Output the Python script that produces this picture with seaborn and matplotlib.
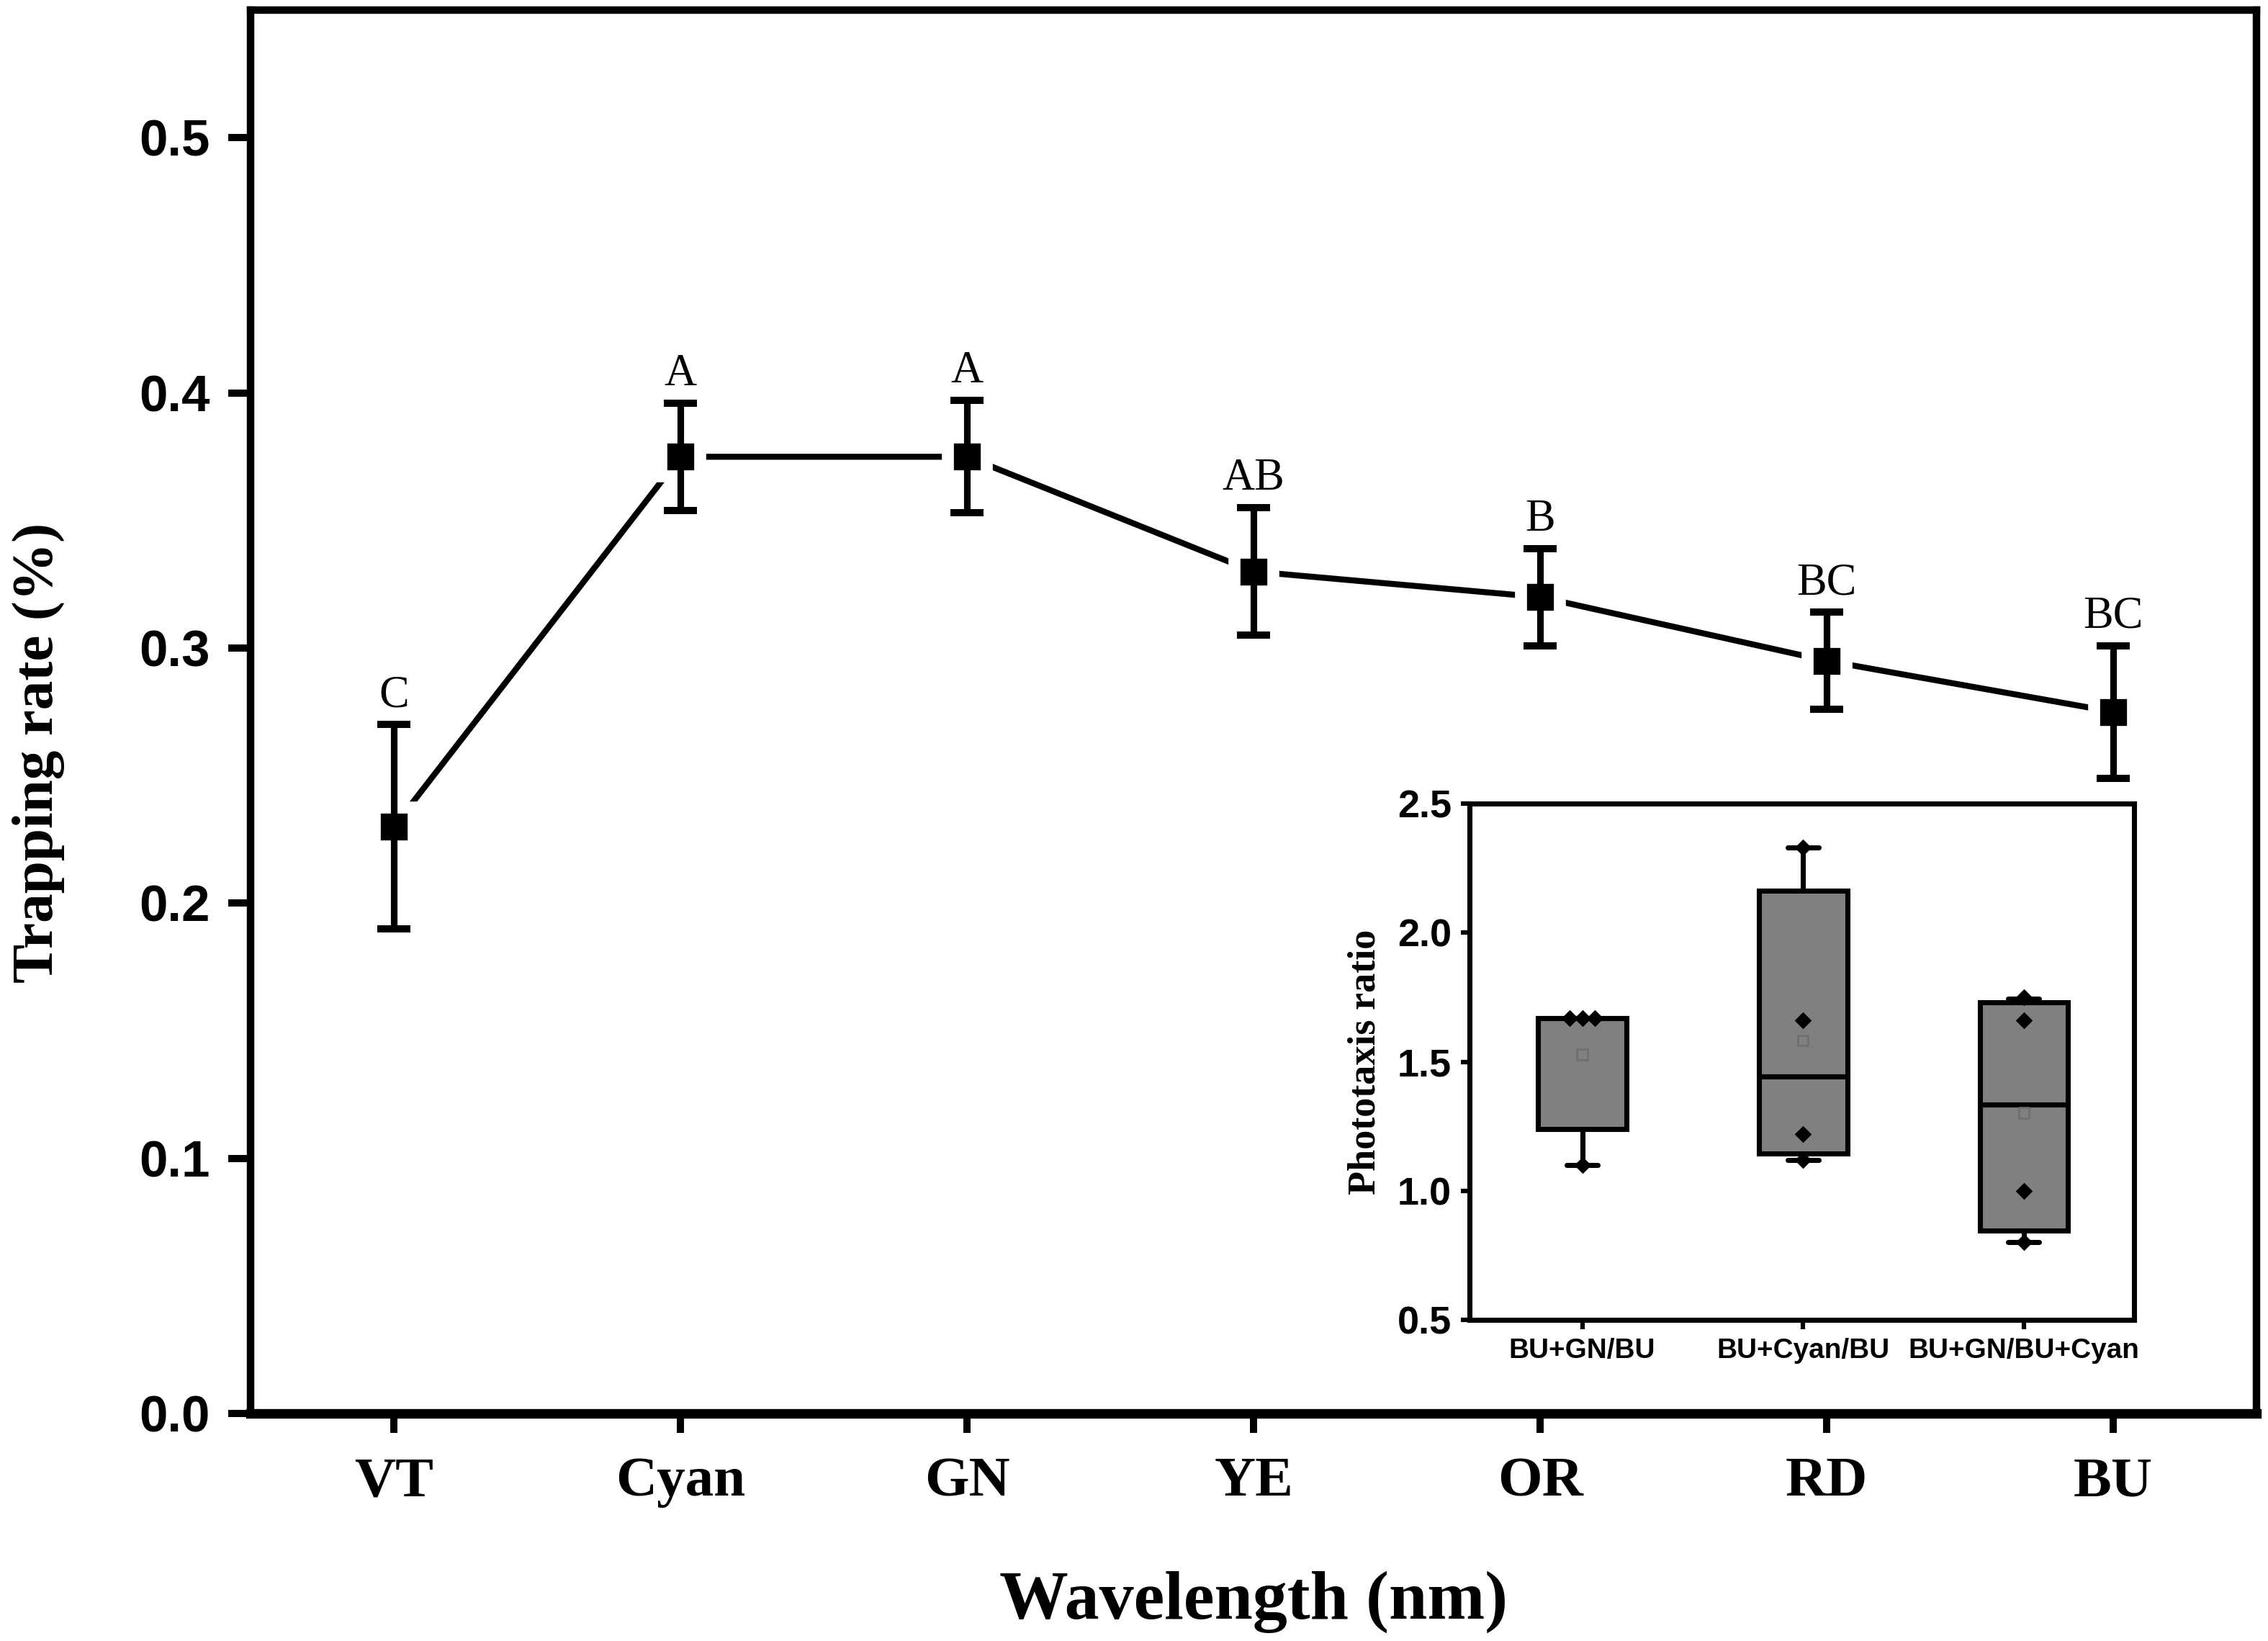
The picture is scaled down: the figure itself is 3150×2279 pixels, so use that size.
import numpy as np
import pandas as pd
import matplotlib
matplotlib.use("Agg")
import matplotlib.pyplot as plt
import seaborn as sns

# main panel: trapping rate per wavelength
wavelengths = ["VT", "Cyan", "GN", "YE", "OR", "RD", "BU"]
trap_rate = [0.230, 0.375, 0.375, 0.330, 0.320, 0.295, 0.275]
trap_err = [0.040, 0.021, 0.022, 0.025, 0.019, 0.019, 0.026]
letters = ["C", "A", "A", "AB", "B", "BC", "BC"]

# inset: phototaxis ratio box summaries + raw points
groups = ["BU+GN/BU", "BU+Cyan/BU", "BU+GN/BU+Cyan"]
q1 = [1.24, 1.145, 0.847]
median = [1.67, 1.443, 1.333]
q3 = [1.67, 2.163, 1.730]
whis_lo = [1.10, 1.12, 0.80]
whis_hi = [1.67, 2.33, 1.745]
pts_gn_bu = [1.67, 1.67, 1.67, 1.10]
pts_cyan_bu = [2.33, 1.66, 1.22, 1.12]
pts_gn_cyan = [1.75, 1.66, 1.00, 0.80]

sns.set_style("ticks", {"axes.edgecolor": "black", "xtick.color": "black",
                        "ytick.color": "black", "text.color": "black",
                        "axes.labelcolor": "black"})
plt.rcParams["font.family"] = ["Liberation Sans", "DejaVu Sans"]
SERIF = ["Liberation Serif", "DejaVu Serif"]
SANS = ["Liberation Sans", "DejaVu Sans"]

df = pd.DataFrame({"pos": np.arange(len(wavelengths)), "rate": trap_rate, "err": trap_err})

fig = plt.figure(figsize=(10.5, 2279 / 300))
ax = fig.add_axes([0.1105, 0.1387, 0.8845, 0.855])

sns.lineplot(data=df, x="pos", y="rate", ax=ax, color="black", lw=2.0,
             marker="s", markersize=13, markerfacecolor="black",
             markeredgecolor="white", markeredgewidth=4, zorder=2)
ax.errorbar(df["pos"], df["rate"], yerr=df["err"], fmt="none", ecolor="black",
            elinewidth=2.2, capsize=5.5, capthick=2.4, zorder=3)

for x, y, e, lab in zip(df["pos"], df["rate"], df["err"], letters):
    ax.annotate(lab, (x, y + e), xytext=(0, 6), textcoords="offset points",
                ha="center", va="baseline", fontsize=15, family=SERIF)

ax.set_xlim(-0.5, len(wavelengths) - 0.5)
ax.set_ylim(0, 0.55)
ax.set_yticks(np.arange(0, 0.51, 0.1))
ax.set_yticklabels([f"{v:.1f}" for v in np.arange(0, 0.51, 0.1)],
                   fontsize=17, fontweight="bold", family=SANS)
ax.set_xticks(df["pos"])
ax.set_xticklabels(wavelengths, fontsize=19, fontweight="bold", family=SERIF)
ax.tick_params(axis="y", direction="out", length=7.5, width=2.4, pad=6)
ax.tick_params(axis="x", direction="out", length=6.5, width=2.4, pad=8)
for side in ["left", "right", "top"]:
    ax.spines[side].set_linewidth(2.5)
ax.spines["bottom"].set_linewidth(3.2)

ax.set_xlabel("Wavelength (nm)", fontsize=23, fontweight="bold", family=SERIF)
ax.set_ylabel("Trapping rate (%)", fontsize=19.5, fontweight="bold", family=SERIF)
ax.xaxis.set_label_coords(0.5, -0.112)
ax.yaxis.set_label_coords(-0.0925, 0.471)

# inset box plot
ins = fig.add_axes([0.648, 0.1957, 0.293, 0.3146])
stats = [dict(med=m, q1=a, q3=b, whislo=lo, whishi=hi, fliers=[], label=g)
         for g, a, m, b, lo, hi in zip(groups, q1, median, q3, whis_lo, whis_hi)]
ins.bxp(stats, positions=range(len(groups)), widths=0.4, capwidths=0.14,
        patch_artist=True, showfliers=False,
        boxprops=dict(facecolor="#808080", edgecolor="black", linewidth=1.7),
        medianprops=dict(color="black", linewidth=1.7),
        whiskerprops=dict(color="black", linewidth=1.7),
        capprops=dict(color="black", linewidth=1.7))

pts = pd.DataFrame({
    "group": [groups[0]] * len(pts_gn_bu) + [groups[1]] * len(pts_cyan_bu) + [groups[2]] * len(pts_gn_cyan),
    "ratio": pts_gn_bu + pts_cyan_bu + pts_gn_cyan,
})
sns.swarmplot(data=pts, x="group", y="ratio", order=groups, ax=ins, color="black",
              marker="D", size=4, zorder=4)
means = pts.groupby("group", sort=False)["ratio"].mean().reindex(groups)
sns.scatterplot(x=np.arange(len(groups)), y=means.values, ax=ins, marker="s", s=12,
                facecolor="none", edgecolor="#6e6e6e", linewidth=0.6, zorder=5)

ins.set_xlim(-0.51, 2.5)
ins.set_ylim(0.5, 2.5)
ins.set_yticks([0.5, 1.0, 1.5, 2.0, 2.5])
ins.set_yticklabels(["0.5", "1.0", "1.5", "2.0", "2.5"], fontsize=13,
                    fontweight="bold", family=SANS)
ins.set_xticks(range(len(groups)))
ins.set_xticklabels(groups, fontsize=9.3, fontweight="bold", family=SANS)
ins.tick_params(direction="out", length=3, width=1.5, pad=3)
for s in ins.spines.values():
    s.set_linewidth(1.7)
ins.set_xlabel("")
ins.set_ylabel("Phototaxis ratio", fontsize=13, fontweight="bold", family=SERIF)
ins.yaxis.set_label_coords(-0.13, 0.5)

fig.savefig("out.png", dpi=300, facecolor="white")
